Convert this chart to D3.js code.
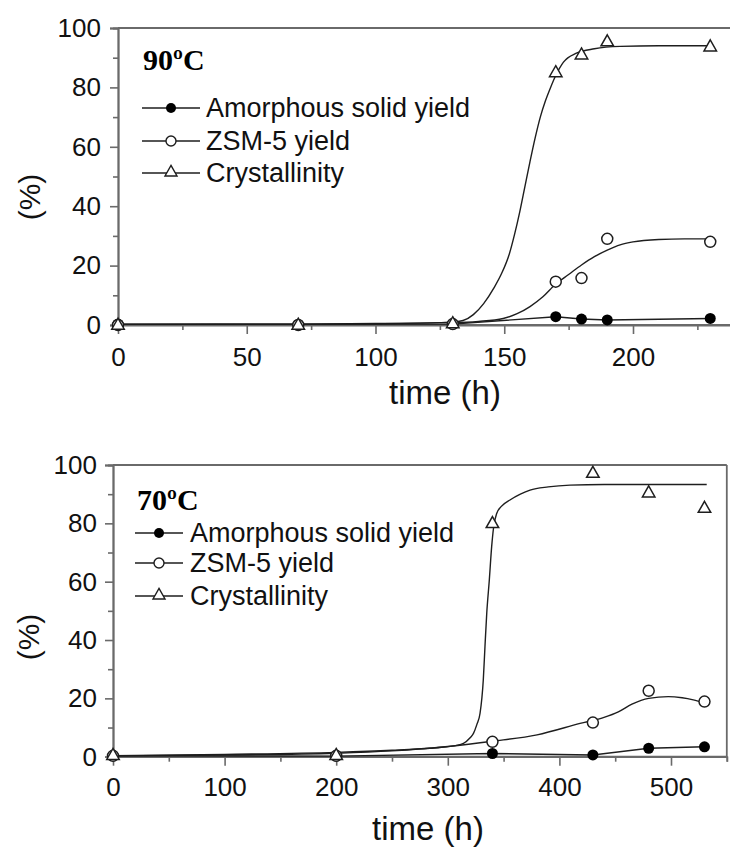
<!DOCTYPE html>
<html><head><meta charset="utf-8">
<script src="https://cdn.jsdelivr.net/npm/d3@7"></script>
<style>body{margin:0;background:#fff}svg{display:block}</style>
</head><body><svg id="c" width="730" height="850"></svg>
<script>
// ---------- 90ºC panel ----------
const time90 = [0, 70, 130, 170, 180, 190, 230];
const amorphous90 = [0.3, 0.2, 0.3, 2.8, 2.0, 1.7, 2.2];
const zsm90 = [0, 0, 0.3, 14.6, 15.8, 29, 28];
const cryst90 = [0, 0, 0.5, 85, 91, 95.4, 93.7];
const crystFitT90 = [0, 70, 100, 125, 130, 134, 138, 142, 146, 149, 152, 154, 156, 158, 160, 162, 164, 166, 168, 170, 173, 178, 185, 195, 210, 230];
const crystFitV90 = [0.2, 0.3, 0.5, 0.8, 1, 1.5, 3.5, 7.2, 12.5, 17.4, 24, 30.5, 38, 46.5, 55, 63, 70, 75.5, 80, 84, 88.5, 91.5, 93, 93.8, 94, 94];
const zsmFitT90 = [0, 70, 130, 140, 149.6, 155, 160, 165, 170, 175, 180, 185, 190, 195, 200, 210, 220, 230];
const zsmFitV90 = [0.2, 0.3, 0.8, 1.2, 2.2, 3.8, 6.2, 9.5, 13.8, 17, 20.2, 23, 25.2, 27, 28, 28.8, 29, 29];

// ---------- 70ºC panel ----------
const time70 = [0, 200, 340, 430, 480, 530];
const amorphous70 = [0.3, 0.2, 1.1, 0.6, 2.9, 3.4];
const zsm70 = [0.3, 0.3, 5.1, 11.7, 22.6, 18.9];
const cryst70 = [0.5, 0.5, 80, 97.2, 90.5, 85.2];
const crystFitT70 = [0, 100, 200, 250, 284, 299, 314, 320, 323, 326, 328.9, 331.8, 333.3, 334.9, 337.2, 339.3, 341, 343.8, 348, 355.7, 365, 373.7, 390, 409.5, 440, 532];
const crystFitV70 = [0.3, 0.8, 1.5, 2.2, 2.9, 3.4, 4.6, 6.5, 8, 11, 14.9, 26.3, 37.7, 49.2, 60.6, 72, 78.5, 83.4, 85.8, 88, 90, 91.4, 92.5, 93.1, 93.3, 93.3];
const zsmFitT70 = [0, 100, 200, 250, 300, 340, 380, 418.5, 440, 452.8, 465, 480, 497.6, 510, 520, 530];
const zsmFitV70 = [0.3, 0.6, 1.2, 2, 3.5, 5.3, 7.5, 11.4, 13.5, 15.4, 18, 20, 20.6, 20.2, 19.5, 18.5];

// ---------- shared labels / ticks ----------
const seriesNames = ["Amorphous solid yield", "ZSM-5 yield", "Crystallinity"];
const yTicks = [0, 20, 40, 60, 80, 100];
const yMinor = [10, 30, 50, 70, 90];
const xTicks90 = [0, 50, 100, 150, 200];
const xMinor90 = [25, 75, 125, 175, 225];
const xTicks70 = [0, 100, 200, 300, 400, 500];
const xMinor70 = [50, 150, 250, 350, 450, 550];
const xTitle = "time (h)";
const yTitle = "(%)";

const svg = d3.select("#c");
const AX = "#6a6a6a", LN = "#1e1e1e";
const SANS = "'Liberation Sans', Arial, sans-serif";

function triPath(s) {
  const h = s * 0.88;
  return `M0,${-h * 0.62}L${s / 2},${h * 0.38}L${-s / 2},${h * 0.38}Z`;
}

function panel(o) {
  const x = d3.scaleLinear().domain(o.xDomain).range(o.xRange);
  const y = d3.scaleLinear().domain([0, 100]).range(o.yRange);
  const g = svg.append("g");

  g.append("line").attr("x1", o.xRange[0]).attr("x2", o.xRange[1])
    .attr("y1", y(100)).attr("y2", y(100)).attr("stroke", AX).attr("stroke-width", 1.8);
  g.append("line").attr("x1", o.xRange[1]).attr("x2", o.xRange[1])
    .attr("y1", y(100)).attr("y2", y(0)).attr("stroke", AX).attr("stroke-width", 1.8);

  const yMaj = g.append("g").attr("transform", `translate(${o.xRange[0]},0)`)
    .call(d3.axisLeft(y).tickValues(yTicks).tickSize(8).tickPadding(o.yPad).tickFormat(d3.format("d")));
  const yMin = g.append("g").attr("transform", `translate(${o.xRange[0]},0)`)
    .call(d3.axisLeft(y).tickValues(yMinor).tickSize(5).tickFormat(""));
  const xMaj = g.append("g").attr("transform", `translate(0,${y(0)})`)
    .call(d3.axisBottom(x).tickValues(o.xTicks).tickSize(9).tickPadding(o.xPad).tickFormat(d3.format("d")));
  const xMin = g.append("g").attr("transform", `translate(0,${y(0)})`)
    .call(d3.axisBottom(x).tickValues(o.xMinor).tickSize(5).tickFormat(""));
  [yMaj, yMin, xMaj, xMin].forEach(a => {
    a.selectAll(".domain").attr("stroke", AX).attr("stroke-width", 1.8);
    a.selectAll(".tick line").attr("stroke", AX).attr("stroke-width", 1.6);
    a.selectAll("text").attr("font-family", SANS).attr("font-size", 26).attr("fill", "#111");
  });
  xMaj.select(".domain").attr("d", `M${o.xRange[0]},0H${o.xRange[1]}`);

  g.append("text").attr("x", o.xTitlePos[0]).attr("y", o.xTitlePos[1]).attr("text-anchor", "middle")
    .attr("font-family", SANS).attr("font-size", 33).attr("fill", "#111").text(xTitle);
  g.append("text").attr("transform", `translate(${o.yTitlePos[0]},${o.yTitlePos[1]}) rotate(-90)`)
    .attr("text-anchor", "middle").attr("dominant-baseline", "central")
    .attr("font-family", SANS).attr("font-size", 30).attr("fill", "#111").text(yTitle);

  const plot = g.append("g");
  const smooth = d3.line().x(d => x(d[0])).y(d => y(d[1])).curve(d3.curveMonotoneX);
  const straight = d3.line().x(d => x(d[0])).y(d => y(d[1]));
  const zipd = (a, b) => a.map((t, i) => [t, b[i]]);

  plot.append("path").attr("d", smooth(zipd(o.crystFitT, o.crystFitV)))
    .attr("fill", "none").attr("stroke", LN).attr("stroke-width", 1.4);
  plot.append("path").attr("d", smooth(zipd(o.zsmFitT, o.zsmFitV)))
    .attr("fill", "none").attr("stroke", LN).attr("stroke-width", 1.4);
  plot.append("path").attr("d", straight(zipd(o.time, o.amorphous)))
    .attr("fill", "none").attr("stroke", LN).attr("stroke-width", 1.4);

  plot.selectAll(".am").data(zipd(o.time, o.amorphous)).join("circle")
    .attr("cx", d => x(d[0])).attr("cy", d => y(d[1])).attr("r", 5.5).attr("fill", "#000");
  plot.selectAll(".zs").data(zipd(o.time, o.zsm)).join("circle")
    .attr("cx", d => x(d[0])).attr("cy", d => y(d[1])).attr("r", 5.5)
    .attr("fill", "#fff").attr("stroke", LN).attr("stroke-width", 1.5);
  plot.selectAll(".cr").data(zipd(o.time, o.cryst)).join("path")
    .attr("transform", d => `translate(${x(d[0])},${y(d[1])})`).attr("d", triPath(12.5))
    .attr("fill", "#fff").attr("stroke", LN).attr("stroke-width", 1.5);

  g.append("text").attr("x", o.label[0]).attr("y", o.label[1])
    .attr("font-family", "'Liberation Serif', 'Times New Roman', serif").attr("font-weight", "bold")
    .attr("font-size", 30).attr("fill", "#000").text(o.tempLabel);

  const L = o.legend;
  seriesNames.forEach((name, i) => {
    const ly = L.rows[i];
    g.append("line").attr("x1", L.x0).attr("x2", L.x1).attr("y1", ly).attr("y2", ly)
      .attr("stroke", LN).attr("stroke-width", 1.4);
    const mx = (L.x0 + L.x1) / 2;
    if (i === 0) g.append("circle").attr("cx", mx).attr("cy", ly).attr("r", 5).attr("fill", "#000");
    if (i === 1) g.append("circle").attr("cx", mx).attr("cy", ly).attr("r", 5)
      .attr("fill", "#fff").attr("stroke", LN).attr("stroke-width", 1.4);
    if (i === 2) g.append("path").attr("transform", `translate(${mx},${ly - 1})`).attr("d", triPath(12))
      .attr("fill", "#fff").attr("stroke", LN).attr("stroke-width", 1.4);
    g.append("text").attr("x", L.tx).attr("y", ly + 9).attr("font-family", SANS)
      .attr("font-size", 27).attr("fill", "#111").text(name);
  });
}

panel({
  xDomain: [0, 240], xRange: [118, 736], yRange: [325, 28],
  xTicks: xTicks90, xMinor: xMinor90, yPad: 9, xPad: 14,
  xTitlePos: [445, 404], yTitlePos: [29, 197],
  time: time90, amorphous: amorphous90, zsm: zsm90, cryst: cryst90,
  crystFitT: crystFitT90, crystFitV: crystFitV90, zsmFitT: zsmFitT90, zsmFitV: zsmFitV90,
  tempLabel: "90ºC", label: [143, 70],
  legend: { x0: 142, x1: 200, tx: 206, rows: [108, 141, 173] }
});

panel({
  xDomain: [0, 550], xRange: [113, 726.8], yRange: [756.7, 465],
  xTicks: xTicks70, xMinor: xMinor70, yPad: 8, xPad: 12,
  xTitlePos: [428, 840], yTitlePos: [28, 637],
  time: time70, amorphous: amorphous70, zsm: zsm70, cryst: cryst70,
  crystFitT: crystFitT70, crystFitV: crystFitV70, zsmFitT: zsmFitT70, zsmFitV: zsmFitV70,
  tempLabel: "70ºC", label: [137, 510],
  legend: { x0: 135, x1: 183, tx: 190, rows: [533, 563, 596] }
});
</script>
</body></html>
